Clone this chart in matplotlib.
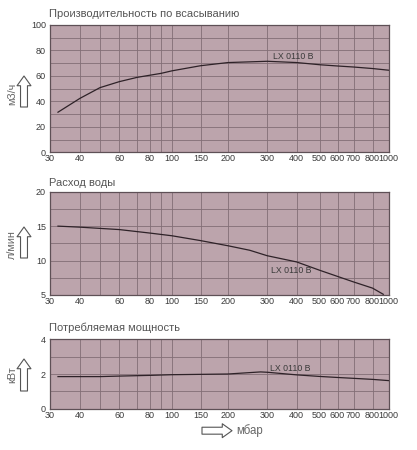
import numpy as np
import matplotlib
matplotlib.use("Agg")
import matplotlib.pyplot as plt

plt.rcParams['font.family'] = ['Liberation Sans', 'DejaVu Sans']

# ---- data ----
flow_x = [32.5, 40, 50, 60, 70, 80, 90, 100, 150, 200, 300, 400, 500, 600, 700, 800, 1000]
flow_y = [31.5, 42.4, 50.8, 55.5, 58.9, 60.5, 62.0, 64.0, 68.0, 70.5, 71.5, 70.5, 68.8, 67.8, 67.0, 65.8, 64.5]

water_x = [32.5, 40, 60, 80, 100, 150, 200, 250, 300, 400, 500, 600, 700, 800, 930]
water_y = [15.0, 14.85, 14.5, 14.0, 13.6, 12.9, 12.15, 11.5, 10.7, 9.8, 8.6, 7.7, 6.9, 6.0, 5.1]

power_x = [32.5, 40, 50, 60, 80, 100, 150, 200, 280, 300, 400, 500, 600, 700, 800, 1000]
power_y = [1.85, 1.85, 1.85, 1.88, 1.92, 1.96, 1.98, 2.0, 2.12, 2.1, 1.95, 1.86, 1.8, 1.75, 1.69, 1.62]

x_ticks = [30, 40, 60, 80, 100, 150, 200, 300, 400, 500, 600, 700, 800, 1000]
x_minor = [50, 70, 90]
titles = ["Производительность по всасыванию", "Расход воды", "Потребляемая мощность"]
ylabels = ["м3/ч", "л/мин", "кВт"]
series_label = "LX 0110 B"
xlabel = "мбар"

# ---- custom (hand-drawn, near-log) x scale of the original chart ----
scale_vals = np.log10([30, 40, 50, 60, 70, 80, 90, 100, 150, 200, 300, 400, 500, 600, 700, 800, 1000])
scale_pos = (np.array([49.5, 80, 100, 119.3, 137.3, 149.5, 161, 172, 200.5, 228, 267.3,
                       296.7, 319.5, 337.5, 353.5, 372.5, 388.5]) - 49.5) / (388.5 - 49.5)

def fwd(x):
    x = np.asarray(x, dtype=float)
    return np.interp(np.log10(np.clip(x, 1e-9, None)), scale_vals, scale_pos)

def inv(p):
    p = np.asarray(p, dtype=float)
    return 10 ** np.interp(p, scale_pos, scale_vals)

W, H = 417, 450
fig = plt.figure(figsize=(W / 100, H / 100), dpi=100)

FACE = '#bca4ac'
GRID = '#826e76'
SPINE = '#5e5056'
LINE = '#2e2228'
TXT = '#3a3a3a'
TITLE = '#555555'
NARROW = ['Liberation Sans Narrow', 'Liberation Sans', 'DejaVu Sans']

def make_ax(top, bottom):
    left, right = 49.5, 388.5
    ax = fig.add_axes([left / W, (H - bottom) / H, (right - left) / W, (bottom - top) / H])
    ax.set_facecolor(FACE)
    ax.set_xscale('function', functions=(fwd, inv))
    ax.set_xlim(30, 1000)
    ax.set_xticks(x_ticks)
    ax.set_xticklabels([str(t) for t in x_ticks], family=NARROW, fontsize=6.8)
    ax.set_xticks(x_minor, minor=True)
    ax.grid(True, which='both', color=GRID, lw=0.6)
    ax.tick_params(which='both', length=0, labelsize=6.5, colors=TXT)
    ax.tick_params(axis='x', pad=1.5)
    ax.tick_params(axis='y', pad=2.5)
    for s in ax.spines.values():
        s.set_color(SPINE)
        s.set_linewidth(0.9)
    ax.set_axisbelow(True)
    return ax

specs = [
    (25, 152.3, flow_x, flow_y, (0, 100), np.arange(0, 101, 20), np.arange(0, 101, 10), (318, 75), 14),
    (191.7, 295, water_x, water_y, (5, 20), [5, 10, 15, 20], np.arange(5, 20.1, 2.5), (311, 8.6), 183),
    (339.3, 408.7, power_x, power_y, (0, 4), [0, 2, 4], [0, 1, 2, 3, 4], (309, 2.33), 328),
]
arrow_spans = [(76, 107), (227, 258), (359, 391)]
ylab_y = [94, 245, 375]

for i, (top, bot, xs, ys, ylim, yt, ygrid, lab, title_y) in enumerate(specs):
    ax = make_ax(top, bot)
    ax.set_ylim(*ylim)
    ax.set_yticks(yt)
    ax.set_yticks([g for g in ygrid if g not in list(yt)], minor=True)
    ax.plot(xs, ys, color=LINE, lw=0.9)
    ax.text(lab[0], lab[1], series_label, fontsize=6.3, color=TXT, ha='left', va='center',
            family=NARROW)
    fig.text(49 / W, 1 - title_y / H, titles[i], fontsize=8.0, color=TITLE, ha='left', va='center')
    fig.text(12 / W, 1 - ylab_y[i] / H, ylabels[i], fontsize=7.8, color='#666666',
             rotation=90, ha='center', va='center')
    y0, y1 = arrow_spans[i]
    fig.add_artist(matplotlib.patches.FancyArrowPatch(
        (24, H - y1), (24, H - y0), transform=None,
        arrowstyle='simple,head_length=0.7,head_width=1.0,tail_width=0.5',
        mutation_scale=10, fc='white', ec='#555555', lw=0.8, shrinkA=0, shrinkB=0))

# x-axis label with arrow
fig.add_artist(matplotlib.patches.FancyArrowPatch(
    (202, H - 430.7), (232, H - 430.7), transform=None,
    arrowstyle='simple,head_length=0.7,head_width=1.0,tail_width=0.5',
    mutation_scale=10, fc='white', ec='#555555', lw=0.8, shrinkA=0, shrinkB=0))
fig.text(236 / W, 1 - 430.5 / H, xlabel, fontsize=8.3, color='#666666', ha='left', va='center')

fig.savefig('out.png', dpi=100, facecolor='white')
